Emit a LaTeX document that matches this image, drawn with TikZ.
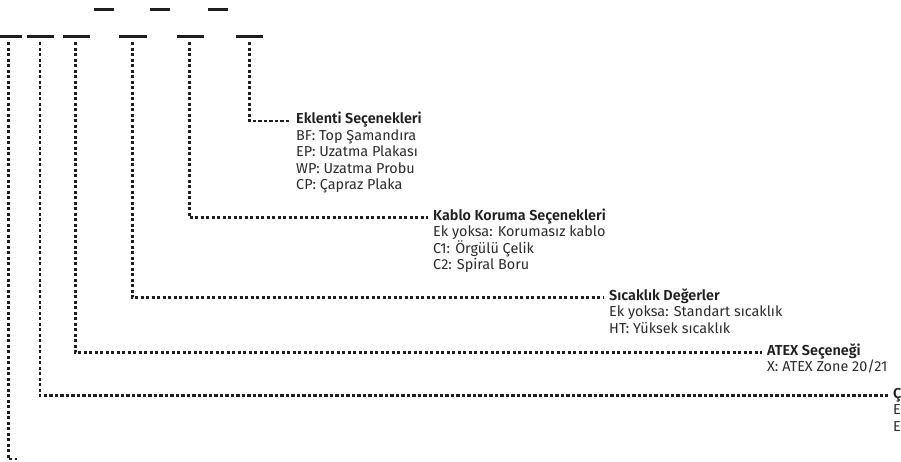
\documentclass[tikz,border=0pt]{standalone}
\usepackage{fontspec}
\setmainfont{Fira Sans}[BoldFont={* SemiBold}]
\definecolor{ink}{HTML}{1E1E1E}
\definecolor{txt}{HTML}{2B2B2B}
\begin{document}
\begin{tikzpicture}[x=1pt,y=-1pt,
  slot/.style={fill=ink,draw=none,inner sep=0pt,minimum height=2.6pt,minimum width=27pt},
  slotsm/.style={slot,minimum width=20pt},
  lead/.style={draw=ink,line width=2.6pt,dash pattern=on 3.2pt off 2.3pt},
  hd/.style={anchor=base west,inner sep=0pt,font=\fontsize{14.4}{17}\selectfont\bfseries,text=ink},
  it/.style={anchor=base west,inner sep=0pt,font=\fontsize{14.4}{17}\selectfont,text=txt}]
\useasboundingbox (0,0) rectangle (901,461);
\clip (0,0) rectangle (901,461);
% top row of short dashes
\node[slotsm] (u1) at (104,9.5) {};
\node[slotsm] (u2) at (160,9.5) {};
\node[slotsm] (u3) at (218,9.5) {};
% second row of dashes
\node[slot] (s1) at (8.5,36.5) {};
\node[slot] (s2) at (40.5,36.5) {};
\node[slot] (s3) at (76.5,36.5) {};
\node[slot,minimum width=28pt] (s4) at (133,36.5) {};
\node[slot] (s5) at (190.5,36.5) {};
\node[slot] (s6) at (249.5,36.5) {};
% line tops
\coordinate (t1) at (8.3,42);
\coordinate (t2) at (40,42);
\coordinate (t3) at (75.3,42);
\coordinate (t4) at (132.3,42);
\coordinate (t5) at (189.3,42);
\coordinate (t6) at (249.3,42);
\coordinate (b1) at (8.3,459);
\coordinate (e1) at (17,459);
% label anchors (line heights)
\coordinate (lEk) at (291,121);
\coordinate (lKb) at (428,217.7);
\coordinate (lSc) at (604,297.7);
\coordinate (lAt) at (762,352.7);
\coordinate (lCx) at (888,395.7);
% labels
\node[hd] (ek) at (296,123.5) {Eklenti Seçenekleri};
\node[it] (ek1) at (296,140) {BF: Top Şamandıra};
\node[it] (ek2) at (296,156.5) {EP: Uzatma Plakası};
\node[it] (ek3) at (296,173) {WP: Uzatma Probu};
\node[it] (ek4) at (296,189.5) {CP: Çapraz Plaka};
\node[hd] (kb) at (433,220) {Kablo Koruma Seçenekleri};
\node[it] (kb1) at (433,236.5) {Ek yoksa: Korumasız kablo};
\node[it] (kb2) at (433,253) {C1: Örgülü Çelik};
\node[it] (kb3) at (433,269.5) {C2: Spiral Boru};
\node[hd] (sc) at (609,300) {Sıcaklık Değerler};
\node[it] (sc1) at (609,316.5) {Ek yoksa: Standart sıcaklık};
\node[it] (sc2) at (609,333) {HT: Yüksek sıcaklık};
\node[hd] (at) at (767,355) {ATEX Seçeneği};
\node[it] (at1) at (767,371.5) {X: ATEX Zone 20/21};
\node[hd] (cx) at (893,398) {Ç};
\node[it] (cx1) at (893,414.5) {E};
\node[it] (cx2) at (893,431) {E};
% leaders
\draw[lead] (t6) |- (lEk);
\draw[lead] (t5) |- (lKb);
\draw[lead] (t4) |- (lSc);
\draw[lead] (t3) |- (lAt);
\draw[lead] (t2) |- (lCx);
\draw[lead] (t1) -- (b1) -- (e1);
\end{tikzpicture}
\end{document}
